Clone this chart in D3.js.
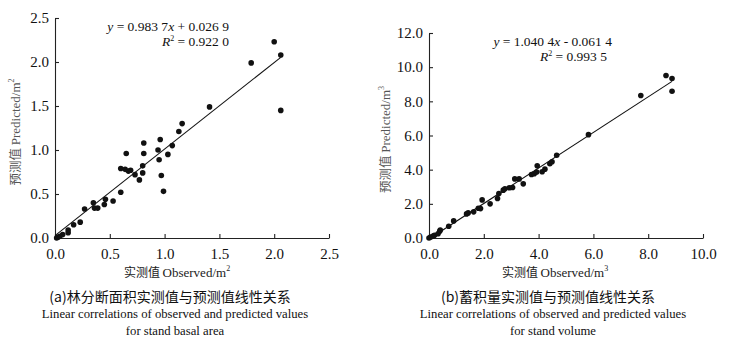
<!DOCTYPE html>
<html>
<head>
<meta charset="utf-8">
<script src="https://d3js.org/d3.v7.min.js"></script>
<style>
  body { margin: 0; background: #fff; }
  text { font-family: "Liberation Serif", "Noto Sans CJK SC", serif; fill: #111; }
</style>
</head>
<body>
<script>
// stand basal area (m2)
const basalObs = [0.015, 0.03, 0.045, 0.07, 0.12, 0.12, 0.17, 0.23, 0.27, 0.35, 0.36, 0.39, 0.45, 0.46, 0.53, 0.60, 0.60, 0.64, 0.65, 0.67, 0.69, 0.73, 0.77, 0.80, 0.80, 0.81, 0.81, 0.94, 0.95, 0.96, 0.97, 0.99, 1.03, 1.07, 1.13, 1.16, 1.41, 1.79, 2.00, 2.06, 2.06];
const basalPred = [0.00, 0.01, 0.02, 0.04, 0.06, 0.09, 0.15, 0.18, 0.33, 0.40, 0.34, 0.34, 0.38, 0.44, 0.42, 0.52, 0.79, 0.78, 0.96, 0.76, 0.77, 0.72, 0.66, 0.74, 0.82, 1.08, 0.96, 1.00, 0.89, 1.12, 0.71, 0.53, 0.95, 1.05, 1.21, 1.30, 1.49, 1.99, 2.23, 2.08, 1.45];
// stand volume (m3)
const volObs = [0.00, 0.06, 0.15, 0.20, 0.33, 0.39, 0.41, 0.72, 0.90, 1.37, 1.43, 1.63, 1.80, 1.88, 1.94, 2.23, 2.50, 2.55, 2.71, 2.77, 2.93, 3.05, 3.13, 3.29, 3.44, 3.74, 3.84, 3.93, 3.95, 4.13, 4.23, 4.41, 4.49, 4.66, 5.82, 7.73, 8.65, 8.87, 8.87];
const volPred = [0.00, 0.06, 0.12, 0.16, 0.25, 0.39, 0.47, 0.69, 1.00, 1.41, 1.47, 1.53, 1.74, 1.72, 2.23, 2.00, 2.31, 2.60, 2.80, 2.88, 2.94, 2.96, 3.46, 3.46, 3.17, 3.72, 3.76, 3.86, 4.23, 3.88, 4.03, 4.35, 4.46, 4.84, 6.05, 8.34, 9.51, 9.34, 8.59];

const xTicksA = [0, 0.5, 1.0, 1.5, 2.0, 2.5];
const yTicksA = [0, 0.5, 1.0, 1.5, 2.0, 2.5];
const xTicksB = [0, 2, 4, 6, 8, 10];
const yTicksB = [0, 2, 4, 6, 8, 10, 12];

const svg = d3.select("body").append("svg")
  .attr("width", 742).attr("height", 346);
svg.append("rect").attr("width", 742).attr("height", 346).attr("fill", "#fff");

function panel(o) {
  const g = svg.append("g");
  const x = d3.scaleLinear().domain(o.xd).range([o.left, o.right]);
  const y = d3.scaleLinear().domain(o.yd).range([o.bottom, o.top]);

  const xa = g.append("g").attr("transform", "translate(0," + o.bottom + ")")
    .call(d3.axisBottom(x).tickValues(o.xt).tickFormat(d3.format(".1f")).tickSizeInner(-4).tickSizeOuter(0).tickPadding(10));
  const ya = g.append("g").attr("transform", "translate(" + o.left + ",0)")
    .call(d3.axisLeft(y).tickValues(o.yt).tickFormat(d3.format(".1f")).tickSizeInner(-4).tickSizeOuter(0).tickPadding(6));
  [xa, ya].forEach(a => {
    a.selectAll("path, line").attr("stroke", "#222").attr("stroke-width", 1.1);
    a.selectAll("text").attr("font-size", 15).attr("fill", "#111")
      .style("font-family", "Liberation Serif");
  });

  // fit line
  const x0 = 0, x1 = d3.max(o.xs);
  g.append("line")
    .attr("x1", x(x0)).attr("y1", y(o.a * x0 + o.b))
    .attr("x2", x(x1)).attr("y2", y(o.a * x1 + o.b))
    .attr("stroke", "#111").attr("stroke-width", 1.1);

  g.selectAll("circle.pt").data(o.xs).enter().append("circle")
    .attr("cx", d => x(d)).attr("cy", (d, i) => y(o.ys[i]))
    .attr("r", 2.8).attr("fill", "#111");

  // equation
  const eq = g.append("text").attr("x", o.eqX).attr("y", o.top + 13)
    .attr("text-anchor", "end").attr("font-size", 13.5);
  eq.append("tspan").attr("font-style", "italic").text("y");
  eq.append("tspan").text(" = " + o.eq1);
  eq.append("tspan").attr("font-style", "italic").text("x");
  eq.append("tspan").text(o.eq2);
  const r2 = g.append("text").attr("x", o.eqX2).attr("y", o.top + 28)
    .attr("text-anchor", "end").attr("font-size", 13.5);
  r2.append("tspan").attr("font-style", "italic").text("R");
  r2.append("tspan").attr("font-size", 8).attr("dy", -5).text("2");
  r2.append("tspan").attr("dy", 5).text(" = " + o.r2);

  // axis titles
  const yl = g.append("text")
    .attr("transform", "translate(" + o.ylX + "," + ((o.top + o.bottom) / 2 + 4) + ") rotate(-90)")
    .attr("text-anchor", "middle").attr("font-size", 13).style("fill", "#555");
  yl.append("tspan").style("font-family", "Noto Sans CJK SC").attr("font-size", 12.5).text("预测值 ");
  yl.append("tspan").text("Predicted/m");
  yl.append("tspan").attr("font-size", 8).attr("dy", -6).text(o.unit);

  const xl = g.append("text").attr("x", o.capX + 2).attr("y", 277)
    .attr("text-anchor", "middle").attr("font-size", 13).style("fill", "#222");
  xl.append("tspan").style("font-family", "Noto Sans CJK SC").attr("font-size", 12).text("实测值 ");
  xl.append("tspan").text("Observed/m");
  xl.append("tspan").attr("font-size", 8).attr("dy", -6).text(o.unit);

  g.append("text").attr("x", o.capX - 5).attr("y", 302).attr("text-anchor", "middle")
    .attr("font-size", 14).style("font-family", "Noto Sans CJK SC").text(o.cap1);
  g.append("text").attr("x", o.capX).attr("y", 318).attr("text-anchor", "middle")
    .attr("font-size", 12.7).text("Linear correlations of observed and predicted values");
  g.append("text").attr("x", o.capX).attr("y", 335).attr("text-anchor", "middle")
    .attr("font-size", 12.7).text(o.cap3);
}

panel({
  xs: basalObs, ys: basalPred, xd: [0, 2.5], yd: [0, 2.5], xt: xTicksA, yt: yTicksA,
  left: 55, right: 329, top: 18, bottom: 238,
  a: 0.9837, b: 0.0269, eq1: "0.983 7", eq2: " + 0.026 9", r2: "0.922 0",
  eqX: 229, eqX2: 229, ylX: 20, unit: "2", capX: 175,
  cap1: "(a)林分断面积实测值与预测值线性关系", cap3: "for stand basal area"
});
panel({
  xs: volObs, ys: volPred, xd: [0, 10], yd: [0, 12], xt: xTicksB, yt: yTicksB,
  left: 429, right: 703, top: 33, bottom: 238,
  a: 1.0404, b: -0.0614, eq1: "1.040 4", eq2: " - 0.061 4", r2: "0.993 5",
  eqX: 612, eqX2: 607, ylX: 390, unit: "3", capX: 553,
  cap1: "(b)蓄积量实测值与预测值线性关系", cap3: "for stand volume"
});
</script>
</body>
</html>
